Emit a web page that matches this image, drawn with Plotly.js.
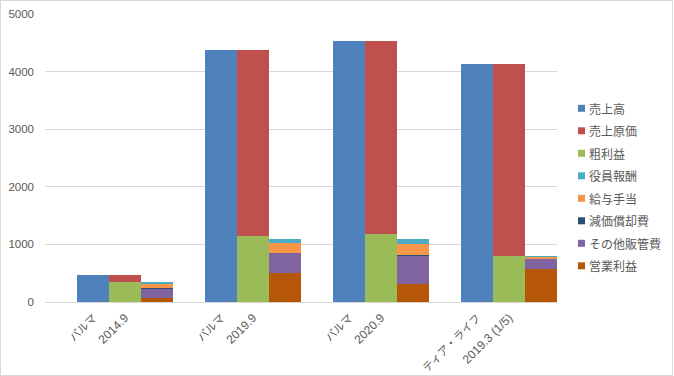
<!DOCTYPE html>
<html><head><meta charset="utf-8">
<script src="https://cdn.plot.ly/plotly-3.0.1.min.js"></script>
<style>html,body{margin:0;padding:0;background:#fff;}#wrap{position:relative;width:674px;height:376px;}#chart{width:674px;height:376px;}#frame{position:absolute;left:0;top:0;width:673px;height:376px;box-sizing:border-box;border:1px solid #d9d9d9;pointer-events:none;}</style>
</head><body>
<div id="wrap"><div id="chart"></div><div id="frame"></div></div>
<script>
// group labels (two lines of the category label)
const companies = ["パルマ", "パルマ", "パルマ", "ティア・ライフ"];
const periods = ["2014.9", "2019.9", "2020.9", "2019.3 (1/5)"];

// column 1
const sales = [469, 4375, 4531, 4132];            // 売上高
// column 2
const grossProfit = [347, 1151, 1186, 799];       // 粗利益
const costOfSales = [122, 3224, 3345, 3333];      // 売上原価
// column 3
const operatingProfit = [75, 509, 318, 573];      // 営業利益
const otherSGA = [151, 342, 486, 174];            // その他販管費
const depreciation = [23, 4, 18, 5];              // 減価償却費
const salaries = [69, 173, 190, 34];              // 給与手当
const executivePay = [30, 70, 82, 18];            // 役員報酬

const legendNames = ["売上高", "売上原価", "粗利益", "役員報酬", "給与手当", "減価償却費", "その他販管費", "営業利益"];
const legendColors = ["#4F81BD", "#C0504D", "#9BBB59", "#4BACC6", "#F79646", "#2C4D75", "#8064A2", "#B65708"];
const colorOf = (n) => legendColors[legendNames.indexOf(n)];

// x positions: each group = blank slot + 3 columns
const slot = (col) => companies.map((_, g) => g * 4 + 1 + col);

function bar(name, col, y) {
  return {type: "bar", name: name, x: slot(col), y: y, width: 1,
    marker: {color: colorOf(name), line: {width: 0}}, hoverinfo: "name+y"};
}

const traces = [
  bar("売上高", 0, sales),
  bar("粗利益", 1, grossProfit),
  bar("売上原価", 1, costOfSales),
  bar("営業利益", 2, operatingProfit),
  bar("その他販管費", 2, otherSGA),
  bar("減価償却費", 2, depreciation),
  bar("給与手当", 2, salaries),
  bar("役員報酬", 2, executivePay)
];

const tickvals = [], ticktext = [];
companies.forEach((c, g) => {
  tickvals.push(g * 4 + 1, g * 4 + 2);
  ticktext.push('<span style="font-size:11px">' + c + '</span>', periods[g]);
});

// custom legend (Excel style small squares)
const plotL = 45, plotW = 512, plotT = 14, plotH = 288;
const px2x = (px) => (px - plotL) / plotW;
const py2y = (py) => (plotT + plotH - py) / plotH;
const shapes = [], annotations = [];
legendNames.forEach((n, i) => {
  const cy = 108.3 + i * 22.5;
  shapes.push({type: "rect", xref: "paper", yref: "paper",
    x0: px2x(578), x1: px2x(585), y0: py2y(cy + 3.5), y1: py2y(cy - 3.5),
    fillcolor: legendColors[i], line: {width: 0}});
  annotations.push({xref: "paper", yref: "paper", x: px2x(587), y: py2y(cy),
    xanchor: "left", yanchor: "middle", showarrow: false, text: n,
    font: {size: 12, color: "#595959", family: "'Noto Sans CJK JP', sans-serif"}});
});

const layout = {
  width: 674, height: 376,
  margin: {l: plotL, r: 674 - plotL - plotW, t: plotT, b: 376 - plotT - plotH},
  paper_bgcolor: "#fff", plot_bgcolor: "#fff",
  font: {family: "'Noto Sans CJK JP', 'Liberation Sans', sans-serif", size: 12, color: "#595959"},
  barmode: "stack", bargap: 0,
  showlegend: false,
  shapes: shapes, annotations: annotations,
  xaxis: {range: [-0.5, 15.5], tickvals: tickvals, ticktext: ticktext,
    tickangle: -45, showgrid: false, zeroline: false,
    showline: true, linecolor: "#d9d9d9", linewidth: 1, ticks: "",
    ticklabelstandoff: 3,
    tickfont: {size: 12, color: "#595959", family: "'Liberation Sans', 'Noto Sans CJK JP', sans-serif"},
    fixedrange: true, automargin: false},
  yaxis: {range: [0, 5000], dtick: 1000, showgrid: true, gridcolor: "#d9d9d9",
    gridwidth: 1, zeroline: false, showline: false, ticks: "",
    ticklabelstandoff: 10, automargin: false,
    tickfont: {size: 11.5, color: "#595959", family: "'Liberation Sans', sans-serif"}, fixedrange: true}
};

Plotly.newPlot("chart", traces, layout, {displayModeBar: false, staticPlot: true});
</script>
</body></html>
